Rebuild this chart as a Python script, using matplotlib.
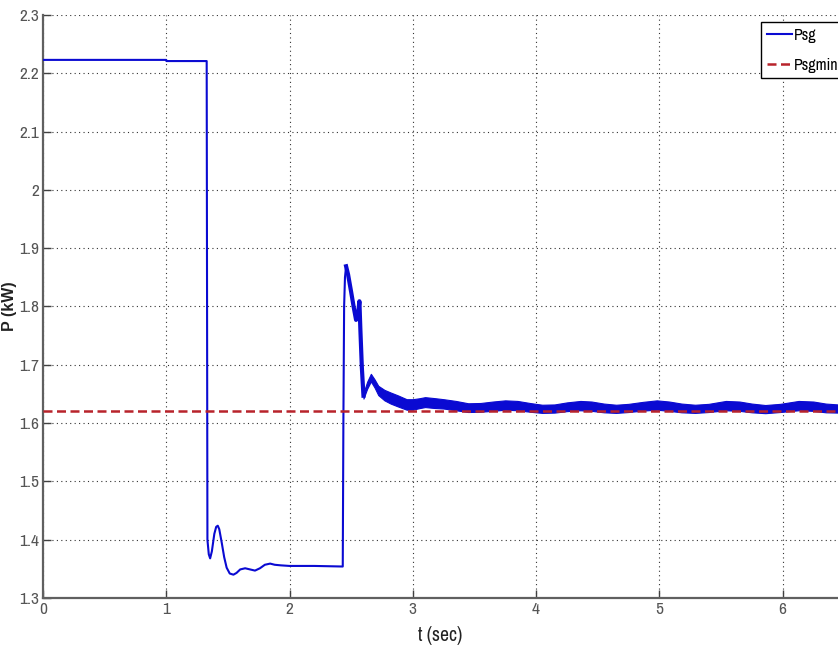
import matplotlib
matplotlib.use("Agg")
import matplotlib.pyplot as plt
import numpy as np

# ---- data ----
t_psg = [0.0, 1.0, 1.001, 1.328, 1.334, 1.345, 1.356, 1.37, 1.39, 1.405, 1.418, 1.43,
         1.45, 1.47, 1.49, 1.515, 1.545, 1.57, 1.60, 1.64, 1.68, 1.72, 1.76, 1.80,
         1.843, 1.88, 1.93, 2.0, 2.2, 2.432, 2.437, 2.443, 2.45, 2.459, 2.475, 2.50,
         2.52, 2.54, 2.555, 2.567, 2.575, 2.587, 2.60]
p_psg = [2.223, 2.223, 2.221, 2.221, 1.40, 1.375, 1.368, 1.38, 1.41, 1.422, 1.424, 1.418,
         1.395, 1.37, 1.352, 1.342, 1.340, 1.343, 1.349, 1.351, 1.349, 1.347, 1.351, 1.357,
         1.359, 1.357, 1.356, 1.355, 1.355, 1.354, 1.60, 1.80, 1.85, 1.869, 1.855, 1.825,
         1.80, 1.777, 1.785, 1.809, 1.76, 1.695, 1.647]

# rippled (thick band) part of Psg: centre and half-width of the ripple band
t_band = [2.60, 2.63, 2.66, 2.69, 2.72, 2.77, 2.82, 2.88, 2.95, 3.00, 3.05, 3.10, 3.17,
          3.25, 3.35, 3.45, 3.55, 3.65, 3.75, 3.85, 3.95, 4.05, 4.15, 4.25, 4.36, 4.45,
          4.55, 4.65, 4.75, 4.87, 4.98, 5.08, 5.18, 5.29, 5.40, 5.54, 5.65, 5.75, 5.86,
          5.98, 6.13, 6.25, 6.35, 6.45]
p_band = [1.647, 1.665, 1.678, 1.668, 1.656, 1.648, 1.643, 1.638, 1.632, 1.632, 1.634,
          1.636, 1.6345, 1.633, 1.630, 1.6265, 1.627, 1.629, 1.631, 1.630, 1.627, 1.6245,
          1.625, 1.628, 1.630, 1.629, 1.626, 1.6245, 1.626, 1.629, 1.631, 1.629, 1.626,
          1.6245, 1.626, 1.630, 1.629, 1.626, 1.624, 1.626, 1.630, 1.629, 1.626, 1.625]
w_band = [0.005, 0.006, 0.0065, 0.007, 0.008, 0.009, 0.0095, 0.0095, 0.009, 0.009, 0.0085,
          0.0085, 0.0085, 0.008, 0.008, 0.0075, 0.0075, 0.008, 0.008, 0.008, 0.0075, 0.007,
          0.007, 0.0075, 0.008, 0.008, 0.0075, 0.007, 0.007, 0.0075, 0.008, 0.008, 0.0075,
          0.007, 0.007, 0.008, 0.008, 0.0075, 0.007, 0.007, 0.008, 0.008, 0.0075, 0.007]

psgmin = 1.621
x_ticks = [0, 1, 2, 3, 4, 5, 6]
y_ticks = [1.3, 1.4, 1.5, 1.6, 1.7, 1.8, 1.9, 2.0, 2.1, 2.2, 2.3]
y_tick_labels = ["1.3", "1.4", "1.5", "1.6", "1.7", "1.8", "1.9", "2", "2.1", "2.2", "2.3"]

# ---- figure ----
narrow = ["Archivo Narrow", "Roboto Condensed", "DejaVu Sans"]
fig = plt.figure(figsize=(8.38, 6.49), dpi=100)
ax = fig.add_axes([43 / 838, 51 / 649, 795 / 838, 583 / 649])

blue = "#0a0ad2"
red = "#b8232b"

line_psg, = ax.plot(t_psg, p_psg, color=blue, lw=1.5, label="Psg", zorder=3)
tp = np.array(t_psg)
pp = np.array(p_psg)
m = tp >= 2.455
ax.plot(tp[m], pp[m], color=blue, lw=3.0, zorder=3, solid_joinstyle="round")
tb = np.array(t_band)
pb = np.array(p_band)
wb = np.array(w_band)
ax.fill_between(tb, pb - wb, pb + wb, color=blue, lw=0.8, edgecolor=blue, zorder=3)

line_min = ax.axhline(psgmin, color=red, lw=1.8, dashes=(3.6, 1.8), label="Psgmin", zorder=4)

ax.set_xlim(0, 6.45)
ax.set_ylim(1.3, 2.3)
ax.set_xticks(x_ticks)
ax.set_xticklabels([str(v) for v in x_ticks])
ax.set_yticks(y_ticks)
ax.set_yticklabels(y_tick_labels)

ax.grid(True, color="#333333", linestyle=(0, (1, 3)), lw=0.8)
for s in ["top", "right"]:
    ax.spines[s].set_visible(False)
for s in ["left", "bottom"]:
    ax.spines[s].set_color("#606060")
    ax.spines[s].set_linewidth(1.6)

ax.tick_params(direction="in", length=6, width=1.0, color="#404040",
               labelcolor="#555555", labelsize=12.5, pad=3)
for lab in ax.get_xticklabels() + ax.get_yticklabels():
    lab.set_family(narrow)

ax.set_xlabel("t (sec)", fontsize=14, family=narrow, color="#222222")
ax.xaxis.set_label_coords((440 - 43) / 795, -(626 - 598) / 583)
ax.set_ylabel("P (kW)", fontsize=11.5, fontweight="bold", color="#222222",
              family=["Liberation Sans", "DejaVu Sans"])
ax.yaxis.set_label_coords(-(43 - 17) / 795, 0.5)

leg = ax.legend(handles=[line_psg, line_min], loc="upper left",
                bbox_to_anchor=(761 / 838, 1 - 22 / 649), bbox_transform=fig.transFigure,
                frameon=True, fancybox=False, edgecolor="black", framealpha=1,
                prop={"family": narrow, "size": 11.5}, handlelength=1.6,
                handletextpad=0.12, borderpad=0.35, labelspacing=0.95, borderaxespad=0)
leg.get_frame().set_linewidth(1.0)

fig.savefig("out.png", dpi=100)
